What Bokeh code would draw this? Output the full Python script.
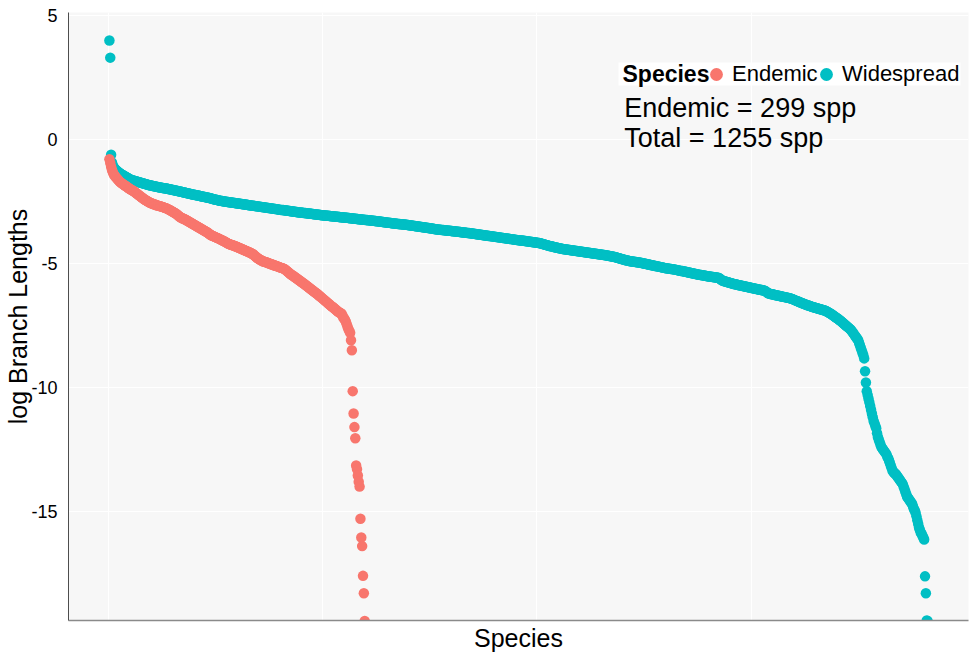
import numpy as np
from bokeh.plotting import figure
from bokeh.models import (ColumnDataSource, Range1d, FixedTicker, Legend,
                          LegendItem, Label, BoxAnnotation)
from bokeh.embed import file_html
from bokeh.resources import INLINE

FONT = "Liberation Sans"
ENDEMIC_COLOR = "#F8766D"
WIDESPREAD_COLOR = "#00BFC4"

species_groups = ["Endemic", "Widespread"]

# log branch lengths per species, ordered from longest to shortest
endemic_log_bl = [
    -0.80, -0.95, -1.10, -1.22, -1.32, -1.40, -1.45, -1.50, -1.54, -1.58,
    -1.62, -1.66, -1.70, -1.73, -1.76, -1.78, -1.81, -1.83, -1.86, -1.88,
    -1.90, -1.93, -1.95, -1.98, -2.00, -2.02, -2.04, -2.06, -2.08, -2.10,
    -2.13, -2.16, -2.18, -2.21, -2.24, -2.26, -2.29, -2.32, -2.34, -2.37,
    -2.39, -2.42, -2.44, -2.46, -2.48, -2.50, -2.52, -2.54, -2.56, -2.57,
    -2.58, -2.60, -2.61, -2.62, -2.63, -2.65, -2.66, -2.67, -2.68, -2.69,
    -2.70, -2.71, -2.72, -2.73, -2.75, -2.76, -2.77, -2.78, -2.80, -2.82,
    -2.84, -2.86, -2.88, -2.90, -2.92, -2.94, -2.96, -2.98, -3.00, -3.03,
    -3.06, -3.09, -3.12, -3.14, -3.16, -3.18, -3.19, -3.21, -3.22, -3.24,
    -3.26, -3.28, -3.30, -3.32, -3.34, -3.36, -3.38, -3.40, -3.42, -3.44,
    -3.46, -3.48, -3.50, -3.52, -3.54, -3.56, -3.58, -3.60, -3.62, -3.64,
    -3.66, -3.68, -3.70, -3.72, -3.74, -3.76, -3.79, -3.82, -3.84, -3.86,
    -3.88, -3.89, -3.91, -3.93, -3.94, -3.96, -3.97, -3.99, -4.00, -4.02,
    -4.04, -4.06, -4.08, -4.09, -4.11, -4.13, -4.15, -4.17, -4.19, -4.21,
    -4.22, -4.24, -4.25, -4.26, -4.27, -4.28, -4.30, -4.31, -4.32, -4.34,
    -4.35, -4.37, -4.38, -4.40, -4.41, -4.43, -4.44, -4.46, -4.47, -4.49,
    -4.50, -4.52, -4.53, -4.55, -4.56, -4.58, -4.60, -4.62, -4.64, -4.67,
    -4.70, -4.73, -4.76, -4.79, -4.81, -4.83, -4.85, -4.87, -4.89, -4.91,
    -4.92, -4.93, -4.94, -4.95, -4.96, -4.98, -4.99, -5.00, -5.02, -5.03,
    -5.04, -5.05, -5.07, -5.08, -5.09, -5.10, -5.12, -5.13, -5.14, -5.16,
    -5.17, -5.18, -5.19, -5.20, -5.22, -5.24, -5.27, -5.30, -5.33, -5.36,
    -5.39, -5.42, -5.45, -5.47, -5.49, -5.52, -5.54, -5.57, -5.59, -5.62,
    -5.64, -5.67, -5.69, -5.72, -5.74, -5.77, -5.79, -5.82, -5.84, -5.87,
    -5.90, -5.92, -5.95, -5.98, -6.00, -6.03, -6.06, -6.08, -6.11, -6.14,
    -6.16, -6.19, -6.21, -6.24, -6.27, -6.30, -6.33, -6.36, -6.39, -6.42,
    -6.45, -6.48, -6.51, -6.54, -6.57, -6.60, -6.63, -6.66, -6.69, -6.72,
    -6.75, -6.77, -6.80, -6.83, -6.86, -6.89, -6.92, -6.95, -6.97, -6.99,
    -7.01, -7.03, -7.10, -7.18, -7.22, -7.28, -7.35, -7.45, -7.55, -7.65,
    -7.72, -7.80, -8.10, -8.50, -10.15, -11.05, -11.60, -12.05, -13.15, -13.30,
    -13.55, -13.80, -14.00, -15.30, -16.05, -16.40, -17.60, -18.30, -19.42,
]

widespread_log_bl = [
    3.99, 3.30, -0.62, -0.93, -1.05, -1.12, -1.17, -1.21, -1.24, -1.27,
    -1.30, -1.33, -1.35, -1.38, -1.40, -1.42, -1.44, -1.46, -1.48, -1.50,
    -1.52, -1.54, -1.56, -1.58, -1.60, -1.62, -1.64, -1.65, -1.66, -1.67,
    -1.68, -1.69, -1.70, -1.71, -1.72, -1.73, -1.74, -1.75, -1.76, -1.77,
    -1.78, -1.79, -1.80, -1.81, -1.82, -1.83, -1.84, -1.85, -1.86, -1.86,
    -1.87, -1.88, -1.89, -1.89, -1.90, -1.91, -1.92, -1.92, -1.93, -1.94,
    -1.94, -1.95, -1.96, -1.96, -1.97, -1.97, -1.98, -1.98, -1.99, -2.00,
    -2.01, -2.01, -2.02, -2.03, -2.04, -2.04, -2.05, -2.06, -2.07, -2.07,
    -2.08, -2.09, -2.10, -2.10, -2.11, -2.12, -2.13, -2.14, -2.14, -2.15,
    -2.16, -2.17, -2.18, -2.18, -2.19, -2.20, -2.21, -2.22, -2.22, -2.23,
    -2.24, -2.24, -2.25, -2.26, -2.26, -2.27, -2.28, -2.29, -2.30, -2.30,
    -2.31, -2.32, -2.32, -2.33, -2.34, -2.35, -2.35, -2.36, -2.37, -2.38,
    -2.39, -2.40, -2.41, -2.42, -2.43, -2.43, -2.44, -2.45, -2.46, -2.47,
    -2.47, -2.48, -2.48, -2.49, -2.50, -2.50, -2.51, -2.51, -2.52, -2.52,
    -2.53, -2.53, -2.54, -2.54, -2.55, -2.55, -2.56, -2.56, -2.57, -2.57,
    -2.58, -2.58, -2.59, -2.59, -2.60, -2.60, -2.61, -2.61, -2.62, -2.62,
    -2.63, -2.63, -2.64, -2.65, -2.65, -2.66, -2.66, -2.67, -2.67, -2.68,
    -2.68, -2.69, -2.69, -2.70, -2.70, -2.71, -2.71, -2.72, -2.72, -2.73,
    -2.73, -2.74, -2.74, -2.75, -2.75, -2.76, -2.76, -2.77, -2.77, -2.78,
    -2.78, -2.79, -2.79, -2.80, -2.80, -2.81, -2.81, -2.82, -2.83, -2.83,
    -2.84, -2.84, -2.85, -2.85, -2.86, -2.86, -2.87, -2.87, -2.88, -2.88,
    -2.89, -2.89, -2.90, -2.90, -2.91, -2.91, -2.92, -2.92, -2.93, -2.93,
    -2.94, -2.94, -2.95, -2.95, -2.95, -2.96, -2.96, -2.97, -2.97, -2.97,
    -2.98, -2.98, -2.99, -2.99, -2.99, -3.00, -3.00, -3.01, -3.01, -3.02,
    -3.02, -3.03, -3.03, -3.03, -3.04, -3.04, -3.05, -3.05, -3.06, -3.06,
    -3.06, -3.07, -3.07, -3.07, -3.08, -3.08, -3.08, -3.09, -3.09, -3.10,
    -3.10, -3.10, -3.11, -3.11, -3.11, -3.12, -3.12, -3.12, -3.13, -3.13,
    -3.14, -3.14, -3.14, -3.15, -3.15, -3.15, -3.16, -3.16, -3.16, -3.17,
    -3.17, -3.18, -3.18, -3.18, -3.19, -3.19, -3.20, -3.20, -3.20, -3.21,
    -3.21, -3.22, -3.22, -3.22, -3.23, -3.23, -3.24, -3.24, -3.24, -3.25,
    -3.25, -3.25, -3.26, -3.26, -3.26, -3.27, -3.27, -3.28, -3.28, -3.28,
    -3.29, -3.29, -3.30, -3.30, -3.30, -3.31, -3.31, -3.32, -3.32, -3.33,
    -3.33, -3.34, -3.34, -3.35, -3.35, -3.36, -3.36, -3.36, -3.37, -3.37,
    -3.38, -3.38, -3.39, -3.39, -3.39, -3.40, -3.40, -3.41, -3.41, -3.41,
    -3.42, -3.42, -3.42, -3.43, -3.43, -3.43, -3.44, -3.44, -3.45, -3.45,
    -3.46, -3.46, -3.47, -3.47, -3.48, -3.48, -3.49, -3.49, -3.50, -3.50,
    -3.51, -3.51, -3.52, -3.52, -3.53, -3.53, -3.54, -3.54, -3.55, -3.55,
    -3.56, -3.56, -3.57, -3.57, -3.58, -3.58, -3.59, -3.59, -3.60, -3.61,
    -3.61, -3.62, -3.62, -3.63, -3.63, -3.64, -3.64, -3.64, -3.65, -3.65,
    -3.65, -3.66, -3.66, -3.67, -3.67, -3.67, -3.68, -3.68, -3.68, -3.69,
    -3.69, -3.70, -3.70, -3.70, -3.71, -3.71, -3.72, -3.72, -3.72, -3.73,
    -3.73, -3.74, -3.74, -3.75, -3.75, -3.75, -3.76, -3.76, -3.77, -3.77,
    -3.77, -3.78, -3.78, -3.79, -3.79, -3.80, -3.80, -3.81, -3.81, -3.82,
    -3.82, -3.83, -3.83, -3.84, -3.84, -3.85, -3.85, -3.86, -3.86, -3.87,
    -3.87, -3.88, -3.88, -3.89, -3.89, -3.90, -3.90, -3.91, -3.91, -3.92,
    -3.92, -3.93, -3.93, -3.94, -3.94, -3.95, -3.95, -3.96, -3.96, -3.97,
    -3.97, -3.98, -3.98, -3.99, -3.99, -4.00, -4.00, -4.01, -4.01, -4.02,
    -4.02, -4.03, -4.03, -4.04, -4.04, -4.05, -4.05, -4.06, -4.06, -4.07,
    -4.07, -4.08, -4.08, -4.09, -4.09, -4.10, -4.10, -4.11, -4.11, -4.12,
    -4.12, -4.13, -4.13, -4.14, -4.14, -4.15, -4.15, -4.16, -4.16, -4.17,
    -4.17, -4.18, -4.18, -4.19, -4.20, -4.21, -4.22, -4.23, -4.24, -4.25,
    -4.26, -4.27, -4.28, -4.29, -4.30, -4.31, -4.31, -4.32, -4.33, -4.34,
    -4.35, -4.36, -4.36, -4.37, -4.38, -4.39, -4.39, -4.40, -4.41, -4.42,
    -4.42, -4.43, -4.43, -4.44, -4.44, -4.45, -4.45, -4.46, -4.46, -4.47,
    -4.47, -4.48, -4.48, -4.49, -4.49, -4.50, -4.50, -4.51, -4.51, -4.52,
    -4.52, -4.53, -4.53, -4.54, -4.54, -4.55, -4.55, -4.56, -4.56, -4.57,
    -4.57, -4.58, -4.58, -4.59, -4.59, -4.60, -4.60, -4.61, -4.61, -4.62,
    -4.62, -4.63, -4.63, -4.64, -4.64, -4.65, -4.65, -4.66, -4.66, -4.67,
    -4.67, -4.68, -4.69, -4.69, -4.70, -4.71, -4.71, -4.72, -4.73, -4.73,
    -4.74, -4.75, -4.76, -4.77, -4.78, -4.79, -4.80, -4.81, -4.82, -4.83,
    -4.84, -4.85, -4.86, -4.87, -4.88, -4.88, -4.89, -4.90, -4.91, -4.91,
    -4.92, -4.92, -4.93, -4.93, -4.94, -4.94, -4.95, -4.95, -4.96, -4.96,
    -4.97, -4.98, -4.98, -4.99, -5.00, -5.01, -5.01, -5.02, -5.03, -5.04,
    -5.04, -5.05, -5.06, -5.07, -5.07, -5.08, -5.09, -5.10, -5.10, -5.11,
    -5.12, -5.13, -5.13, -5.14, -5.15, -5.16, -5.16, -5.17, -5.18, -5.19,
    -5.19, -5.20, -5.20, -5.21, -5.21, -5.22, -5.22, -5.23, -5.23, -5.24,
    -5.25, -5.25, -5.26, -5.27, -5.28, -5.28, -5.29, -5.30, -5.31, -5.31,
    -5.32, -5.33, -5.34, -5.34, -5.35, -5.36, -5.37, -5.37, -5.38, -5.39,
    -5.40, -5.40, -5.41, -5.42, -5.43, -5.43, -5.44, -5.45, -5.46, -5.46,
    -5.47, -5.47, -5.48, -5.48, -5.49, -5.50, -5.50, -5.51, -5.52, -5.52,
    -5.53, -5.53, -5.54, -5.54, -5.55, -5.55, -5.56, -5.56, -5.57, -5.57,
    -5.58, -5.58, -5.60, -5.63, -5.66, -5.68, -5.70, -5.71, -5.72, -5.73,
    -5.74, -5.75, -5.76, -5.77, -5.78, -5.79, -5.80, -5.81, -5.82, -5.83,
    -5.84, -5.84, -5.85, -5.86, -5.87, -5.88, -5.88, -5.89, -5.90, -5.91,
    -5.91, -5.92, -5.93, -5.94, -5.94, -5.95, -5.96, -5.97, -5.97, -5.98,
    -5.99, -6.00, -6.00, -6.01, -6.02, -6.03, -6.03, -6.04, -6.05, -6.06,
    -6.06, -6.07, -6.08, -6.08, -6.09, -6.10, -6.12, -6.15, -6.18, -6.20,
    -6.21, -6.22, -6.23, -6.24, -6.24, -6.25, -6.26, -6.27, -6.28, -6.28,
    -6.29, -6.30, -6.31, -6.31, -6.32, -6.33, -6.34, -6.35, -6.35, -6.36,
    -6.37, -6.38, -6.38, -6.39, -6.40, -6.41, -6.42, -6.43, -6.45, -6.46,
    -6.48, -6.49, -6.51, -6.52, -6.54, -6.55, -6.57, -6.58, -6.60, -6.61,
    -6.62, -6.64, -6.65, -6.66, -6.68, -6.69, -6.70, -6.71, -6.72, -6.74,
    -6.75, -6.76, -6.77, -6.78, -6.79, -6.80, -6.81, -6.82, -6.83, -6.84,
    -6.85, -6.86, -6.87, -6.88, -6.89, -6.90, -6.91, -6.93, -6.95, -6.97,
    -6.99, -7.01, -7.03, -7.05, -7.08, -7.10, -7.13, -7.15, -7.18, -7.20,
    -7.22, -7.25, -7.28, -7.30, -7.33, -7.36, -7.39, -7.42, -7.45, -7.48,
    -7.51, -7.54, -7.57, -7.60, -7.63, -7.66, -7.70, -7.75, -7.80, -7.85,
    -7.90, -7.95, -8.00, -8.05, -8.10, -8.20, -8.30, -8.40, -8.50, -8.60,
    -8.70, -8.83, -9.35, -9.80, -10.15, -10.30, -10.45, -10.60, -10.75, -10.90,
    -11.05, -11.20, -11.35, -11.45, -11.55, -11.65, -11.85, -12.00, -12.10, -12.20,
    -12.30, -12.40, -12.45, -12.50, -12.55, -12.60, -12.65, -12.70, -12.80, -12.86,
    -12.95, -13.05, -13.15, -13.25, -13.35, -13.40, -13.45, -13.47, -13.50, -13.55,
    -13.60, -13.65, -13.70, -13.75, -13.80, -13.85, -13.90, -14.00, -14.10, -14.20,
    -14.30, -14.40, -14.45, -14.50, -14.55, -14.60, -14.65, -14.70, -14.80, -14.90,
    -14.96, -15.05, -15.20, -15.36, -15.50, -15.65, -15.75, -15.85, -15.90, -15.98,
    -16.05, -16.13, -17.62, -18.30, -19.40, -19.42,
]

y_ticks = [5, 0, -5, -10, -15]
x_grid_ticks = [0, 250, 500, 750]

n_endemic = len(endemic_log_bl)
n_total = n_endemic + len(widespread_log_bl)

# species rank along x; each group is ranked from 1
endemic_src = ColumnDataSource(dict(
    rank=np.arange(1, n_endemic + 1), log_bl=endemic_log_bl))
widespread_src = ColumnDataSource(dict(
    rank=np.arange(1, len(widespread_log_bl) + 1), log_bl=widespread_log_bl))

p = figure(
    width=969, height=658,
    output_backend="svg", toolbar_location=None,
    x_range=Range1d(-46.75, 1003.75), y_range=Range1d(-19.40, 5.12),
    min_border_left=68, min_border_right=1,
    min_border_top=12, min_border_bottom=38,
    background_fill_color="#F7F7F7", border_fill_color="white",
)
p.outline_line_color = None

r_wide = p.scatter("rank", "log_bl", source=widespread_src, size=10.5,
                   fill_color=WIDESPREAD_COLOR, line_color=None)
r_end = p.scatter("rank", "log_bl", source=endemic_src, size=10.5,
                  fill_color=ENDEMIC_COLOR, line_color=None)

# grid
p.xgrid.ticker = FixedTicker(ticks=x_grid_ticks)
p.ygrid.ticker = FixedTicker(ticks=y_ticks)
for g in (p.xgrid[0], p.ygrid[0]):
    g.grid_line_color = "white"
    g.grid_line_width = 1

# y axis (plain hyphen minus signs on the tick labels)
ya = p.yaxis[0]
ya.ticker = FixedTicker(ticks=y_ticks)
ya.major_label_overrides = {t: str(t) for t in y_ticks}
ya.major_tick_line_color = None
ya.minor_tick_line_color = None
ya.major_label_standoff = 5
ya.major_label_text_font = FONT
ya.major_label_text_font_size = "18px"
ya.major_label_text_color = "black"
ya.axis_line_color = "#4d4d4d"
ya.axis_label = "log Branch Lengths"
ya.axis_label_text_font = FONT
ya.axis_label_text_font_size = "25px"
ya.axis_label_text_font_style = "normal"
ya.axis_label_text_color = "black"
ya.axis_label_standoff = -4

# x axis: ranks only, no tick labels
xa = p.xaxis[0]
xa.ticker = FixedTicker(ticks=[])
xa.major_tick_line_color = None
xa.minor_tick_line_color = None
xa.major_label_standoff = 0
xa.axis_line_color = "#8a8a8a"
xa.axis_line_width = 1.5
xa.axis_label = "Species"
xa.axis_label_text_font = FONT
xa.axis_label_text_font_size = "25px"
xa.axis_label_text_font_style = "normal"
xa.axis_label_text_color = "black"
xa.axis_label_standoff = 3

# white backing strip behind the legend row
p.add_layout(BoxAnnotation(
    left=550, right=892, bottom=535, top=558,
    left_units="screen", right_units="screen",
    bottom_units="screen", top_units="screen",
    fill_color="white", fill_alpha=1.0, line_color=None))

# legend: one entry per group, placed side by side after the bold title
legend_style = dict(
    orientation="horizontal", glyph_width=32, glyph_height=32,
    label_standoff=-3, padding=4, margin=0, border_line_color=None,
    background_fill_alpha=0.0, label_text_font=FONT,
    label_text_font_size="22px", label_text_color="black",
)
for x_off, name, rend in ((632, species_groups[0], r_end),
                          (742, species_groups[1], r_wide)):
    p.add_layout(Legend(
        items=[LegendItem(label=name, renderers=[rend])],
        location=(x_off, 530), **legend_style))

p.add_layout(Label(
    x=554, y=547, x_units="screen", y_units="screen", text="Species",
    text_font=FONT, text_font_size="23px", text_font_style="bold",
    text_baseline="middle", text_align="left", text_color="black"))

# species counts
for ypos, txt in ((1.25, f"Endemic = {n_endemic} spp"),
                  (0.04, f"Total = {n_total} spp")):
    p.add_layout(Label(
        x=602, y=ypos, text=txt, text_font=FONT, text_font_size="27px",
        text_align="left", text_baseline="alphabetic", text_color="black"))

open("out.html", "w").write(file_html(p, INLINE))
